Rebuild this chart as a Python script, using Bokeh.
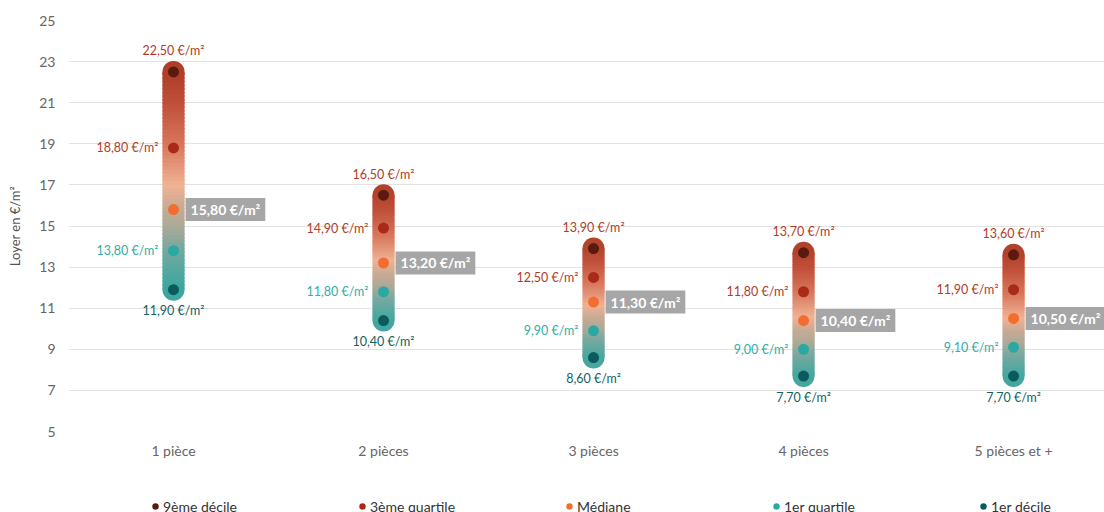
import numpy as np
from bokeh.plotting import figure
from bokeh.layouts import column
from bokeh.models import Range1d, FixedTicker, Legend, LegendItem
from bokeh.embed import file_html
from bokeh.resources import INLINE
from bokeh.core.properties import value

# ---------------- data ----------------
categories = ["1 pièce", "2 pièces", "3 pièces", "4 pièces", "5 pièces et +"]
decile9 = [22.5, 16.5, 13.9, 13.7, 13.6]
quartile3 = [18.8, 14.9, 12.5, 11.8, 11.9]
mediane = [15.8, 13.2, 11.3, 10.4, 10.5]
quartile1 = [13.8, 11.8, 9.9, 9.0, 9.1]
decile1 = [11.9, 10.4, 8.6, 7.7, 7.7]
y_ticks = [5, 7, 9, 11, 13, 15, 17, 19, 21, 23, 25]
series_names = ["9ème décile", "3ème quartile", "Médiane", "1er quartile", "1er décile"]

# ---------------- style ----------------
FONT = "Lato"
point_colors = ["#5b1a0f", "#a82a17", "#f46d30", "#2aa9a3", "#0b5b5c"]
grad_t = [0.0, 0.12, 0.22, 0.30, 0.39, 0.48, 0.65, 0.82, 1.0]
grad_c = ["#30a49e", "#50a8a0", "#78a8a0", "#a8aa98", "#c8aa94", "#f0b294",
          "#d8775c", "#c0503a", "#a8381f"]
BAR_W = 22
PX_PER_UNIT = 411 / 20.0


def hex2rgb(h):
    return [int(h[i:i + 2], 16) for i in (1, 3, 5)]


grad_rgb = np.array([hex2rgb(c) for c in grad_c], dtype=float)


def grad_color(t):
    t = min(max(t, 0.0), 1.0)
    r, g, b = (np.interp(t, grad_t, grad_rgb[:, k]) for k in range(3))
    return "#%02x%02x%02x" % (int(round(r)), int(round(g)), int(round(b)))


def fmt(v):
    return ("%.2f" % v).replace(".", ",") + " €/m²"


xs = list(range(len(categories)))

p = figure(width=1104, height=471, output_backend="svg", toolbar_location=None,
           x_range=Range1d(-0.5, 4.433), y_range=Range1d(5, 25),
           min_border_left=68, min_border_right=0, min_border_top=20,
           min_border_bottom=40)
p.outline_line_color = None
p.background_fill_color = "white"

# axes
p.xaxis.ticker = FixedTicker(ticks=xs)
p.xaxis.major_label_overrides = {x: c for x, c in zip(xs, categories)}
p.yaxis.ticker = FixedTicker(ticks=y_ticks)
for ax in (p.xaxis[0], p.yaxis[0]):
    ax.axis_line_color = None
    ax.major_tick_line_color = None
    ax.minor_tick_line_color = None
    ax.major_tick_out = 0
    ax.major_tick_in = 0
    ax.major_label_text_font = FONT
    ax.major_label_text_font_size = "14px"
    ax.major_label_text_color = "#666666"
p.xaxis.major_label_standoff = 10
p.yaxis.major_label_standoff = 13
p.yaxis.axis_label = "Loyer en €/m²"
p.yaxis.axis_label_text_font = FONT
p.yaxis.axis_label_text_font_size = "13px"
p.yaxis.axis_label_text_font_style = "normal"
p.yaxis.axis_label_text_color = "#555555"
p.yaxis.axis_label_standoff = 13
p.xgrid.grid_line_color = None
p.ygrid.grid_line_color = "#e2e2e2"
p.ygrid.grid_line_width = 1

# gradient bars
cap_d = (BAR_W / 2) / PX_PER_UNIT
N = 60
sx0, sy0, sy1, scol = [], [], [], []
cap_x, cap_y, cap_c = [], [], []
for x, lo, hi in zip(xs, decile1, decile9):
    elo, ehi = lo - cap_d, hi + cap_d
    cap_x += [x, x]
    cap_y += [lo, hi]
    cap_c += [grad_color((lo - elo) / (ehi - elo)), grad_color((hi - elo) / (ehi - elo))]
    step = (hi - lo) / N
    for k in range(N):
        a = lo + step * k
        b = a + step * 1.6 if k < N - 1 else hi
        sx0.append(x)
        sy0.append(a)
        sy1.append(b)
        scol.append(grad_color((a + step / 2 - elo) / (ehi - elo)))

p.scatter(x=cap_x, y=cap_y, size=BAR_W, fill_color=cap_c, line_color=None)
p.segment(x0=sx0, y0=sy0, x1=sx0, y1=sy1, line_color=scol, line_width=BAR_W,
          line_cap="butt")

# points
series = [decile9, quartile3, mediane, quartile1, decile1]
for vals, col in zip(series, point_colors):
    p.scatter(x=xs, y=vals, size=11, fill_color=col, line_color=None)

# labels
lab_common = dict(text_font=value(FONT), text_font_size="12.5px",
                  text_baseline="middle")
p.text(x=xs, y=decile9, text=[fmt(v) for v in decile9], text_align="center",
       y_offset=-21, text_color="#b03c28", **lab_common)
p.text(x=xs, y=quartile3, text=[fmt(v) for v in quartile3], text_align="right",
       x_offset=-15, text_color="#b03c28", **lab_common)
p.text(x=xs, y=quartile1, text=[fmt(v) for v in quartile1], text_align="right",
       x_offset=-15, text_color="#35ada6", **lab_common)
p.text(x=xs, y=decile1, text=[fmt(v) for v in decile1], text_align="center",
       y_offset=21, text_color="#145f60", **lab_common)
p.text(x=xs, y=mediane, text=[fmt(v) for v in mediane], text_align="left",
       x_offset=12, text_color="white", text_font=value(FONT),
       text_font_size="14px", text_font_style="bold", text_baseline="middle",
       background_fill_color="#a6a6a6",
       padding=dict(left=5, right=5, top=3, bottom=3))

# legend strip (separate figure under the chart)
p2 = figure(width=1104, height=41, output_backend="svg", toolbar_location=None,
            x_range=Range1d(-0.5, 4.433), y_range=Range1d(100, 101),
            x_axis_location=None, y_axis_location=None, min_border=0)
p2.outline_line_color = None
p2.xgrid.grid_line_color = None
p2.ygrid.grid_line_color = None
leg_renderers = []
for vals, col in zip(series, point_colors):
    leg_renderers.append(p2.scatter(x=xs, y=vals, size=11, fill_color=col,
                                    line_color=None))
legend = Legend(items=[LegendItem(label=n, renderers=[r])
                       for n, r in zip(series_names, leg_renderers)],
                orientation="horizontal", location=(79, -3),
                glyph_width=16, glyph_height=18, label_height=18,
                label_width=191, label_standoff=0, spacing=0, padding=0,
                margin=0, label_text_font=FONT, label_text_font_size="14px",
                label_text_color="#333333", label_text_baseline="middle",
                background_fill_alpha=0, border_line_alpha=0)
p2.add_layout(legend, "center")

layout = column(p, p2, spacing=0)
open("out.html", "w").write(file_html(layout, INLINE))
